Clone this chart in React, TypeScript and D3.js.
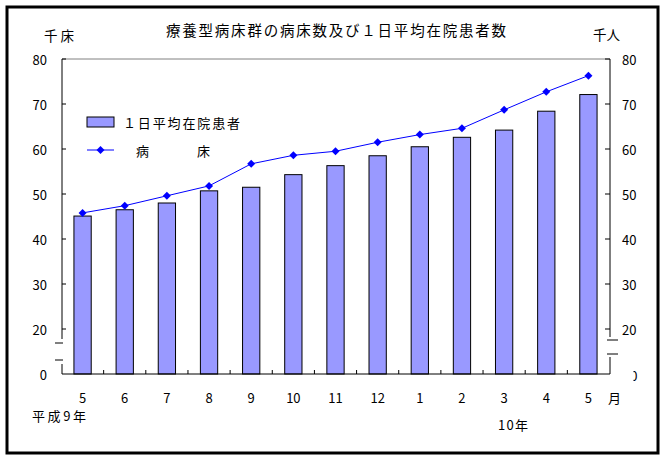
import React from "react";
import * as d3 from "d3";

const categories = ["5", "6", "7", "8", "9", "10", "11", "12", "1", "2", "3", "4", "5"];
const patients = [45.1, 46.5, 48.0, 50.7, 51.5, 54.3, 56.3, 58.5, 60.5, 62.6, 64.2, 68.4, 72.1];
const beds = [45.8, 47.4, 49.6, 51.8, 56.7, 58.6, 59.5, 61.5, 63.2, 64.6, 68.7, 72.7, 76.3];
const yTicks = [0, 20, 30, 40, 50, 60, 70, 80];

const title = "療養型病床群の病床数及び１日平均在院患者数";
const legendBar = "１日平均在院患者";
const legendLine = ["病", "床"];
const leftUnit = "千床";
const rightUnit = "千人";

const FONT = "'Noto Sans CJK JP', 'Noto Sans', sans-serif";

export default function App() {
  const W = 666, H = 461;
  const left = 62, right = 610, top = 59, bottom = 374;
  const x = d3.scaleBand<number>().domain(d3.range(categories.length)).range([61.5, 609.5]).padding(0);
  const y = d3.scaleLinear().domain([0, 20, 80]).range([bottom, 329, top]);
  const bw = x.step() * 0.41;
  const cx = (i: number) => (x(i) as number) + x.bandwidth() / 2;
  const line = d3.line<number>().x((_, i) => cx(i)).y((d) => y(d));
  const diamond = (px: number, py: number, r = 4) => `M${px},${py - r}L${px + r},${py}L${px},${py + r}L${px - r},${py}Z`;
  const y0 = y(0), y20 = y(20);

  return (
    <svg width={W} height={H} style={{ position: "absolute", left: 0, top: 0, display: "block" }} fontFamily={FONT}>
      <rect x={0} y={0} width={W} height={H} fill="#fff" />
      <rect x={7} y={7} width={651} height={446} fill="none" stroke="#000" strokeWidth={3} />
      <text x={166} y={36} fontSize={14.5} textLength={340} lengthAdjust="spacing">{title}</text>
      <text x={44} y={41} fontSize={13.5} textLength={30} lengthAdjust="spacing">{leftUnit}</text>
      <text x={593} y={40} fontSize={13.5} textLength={27} lengthAdjust="spacing">{rightUnit}</text>

      {/* plot top border */}
      <line x1={left} x2={right} y1={top} y2={top} stroke="#808080" strokeWidth={1} />

      {/* bars */}
      {patients.map((v, i) => (
        <rect key={i} x={cx(i) - bw / 2} y={y(v)} width={bw} height={y0 - y(v)} fill="#9999FF" stroke="#000" strokeWidth={1} />
      ))}

      {/* line series */}
      <path d={line(beds) || ""} fill="none" stroke="#0000FF" strokeWidth={1} />
      {beds.map((v, i) => (
        <path key={i} d={diamond(cx(i), y(v))} fill="#0000FF" />
      ))}

      {/* left axis with break */}
      <line x1={left} x2={left} y1={top} y2={y20 + 10} stroke="#000" />
      <line x1={left} x2={left} y1={y0 - 10} y2={y0} stroke="#000" />
      <line x1={55} x2={left + 1} y1={y20 + 14} y2={y20 + 14} stroke="#000" />
      <line x1={55} x2={left + 1} y1={y0 - 14} y2={y0 - 14} stroke="#000" />
      {/* right axis with break */}
      <line x1={right} x2={right} y1={top} y2={y20 + 8} stroke="#000" />
      <line x1={right} x2={right} y1={y0 - 17} y2={y0} stroke="#000" />
      <line x1={607} x2={618} y1={y20 + 11} y2={y20 + 11} stroke="#000" />
      <line x1={607} x2={618} y1={y0 - 20} y2={y0 - 20} stroke="#000" />

      {yTicks.filter((t) => t > 0).map((t) => (
        <g key={t}>
          <line x1={left} x2={left + 4} y1={y(t)} y2={y(t)} stroke="#000" />
          <line x1={right - 5} x2={right} y1={y(t)} y2={y(t)} stroke="#000" />
        </g>
      ))}
      {yTicks.map((t) => (
        <text key={"l" + t} x={47} y={y(t)} fontSize={13} textAnchor="end" dominantBaseline="central">{t}</text>
      ))}
      <clipPath id="rclip">
        <rect x={633.5} y={0} width={30} height={H} />
      </clipPath>
      {yTicks.map((t) => (
        t === 0 ? (
          <text key={"r" + t} x={637.5} y={y(t) + 1} fontSize={13} textAnchor="end" dominantBaseline="central" clipPath="url(#rclip)">{t}</text>
        ) : (
          <text key={"r" + t} x={622} y={y(t)} fontSize={13} dominantBaseline="central">{t}</text>
        )
      ))}

      {/* bottom axis */}
      <line x1={left} x2={right} y1={bottom} y2={bottom} stroke="#000" />
      {d3.range(1, categories.length).map((i) => (
        <line key={i} x1={x(i) as number} x2={x(i) as number} y1={bottom} y2={bottom - 4} stroke="#000" />
      ))}
      {categories.map((c, i) => (
        <text key={i} x={cx(i)} y={397} fontSize={13} textAnchor="middle" dominantBaseline="central">{c}</text>
      ))}
      <text x={608} y={397} fontSize={13} dominantBaseline="central">月</text>
      <text x={32} y={415} fontSize={13} dominantBaseline="central" textLength={54} lengthAdjust="spacing">平成9年</text>
      <text x={498} y={424} fontSize={13} dominantBaseline="central" textLength={30} lengthAdjust="spacing">10年</text>

      {/* legend */}
      <rect x={87} y={117} width={27} height={10} fill="#9999FF" stroke="#000" />
      <text x={123} y={122} fontSize={13} dominantBaseline="central" textLength={117} lengthAdjust="spacing">{legendBar}</text>
      <line x1={87} x2={114} y1={150} y2={150} stroke="#0000FF" />
      <path d={diamond(100.5, 150)} fill="#0000FF" />
      <text y={150} fontSize={13} dominantBaseline="central">
        <tspan x={136}>{legendLine[0]}</tspan>
        <tspan x={197}>{legendLine[1]}</tspan>
      </text>
    </svg>
  );
}
